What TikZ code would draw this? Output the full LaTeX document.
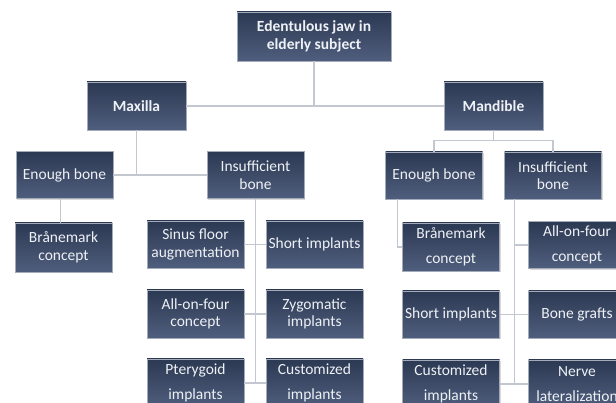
\documentclass[tikz,border=0pt]{standalone}
\usepackage{fontspec}
\setmainfont{Carlito}
\usetikzlibrary{shadows,calc}

\definecolor{boxtop}{HTML}{2C3953}
\definecolor{boxbot}{HTML}{4F5E7D}
\definecolor{boxline}{HTML}{A3ABBB}
\definecolor{linkgray}{HTML}{C3C7CF}
\definecolor{boxtext}{HTML}{EEF1F5}

\begin{document}
\begin{tikzpicture}[x=1pt,y=-1pt,font=\fontsize{15.5}{17.5}\selectfont]

    \tikzstyle{box}=[rectangle,draw=boxline,line width=0.6pt,top color=boxtop,bottom color=boxbot,text=boxtext,align=center,
                     minimum width=97pt,minimum height=47pt,inner sep=1pt,
                     drop shadow={shadow xshift=1pt,shadow yshift=-1.5pt,opacity=0.3}]
    \tikzstyle{loose}=[box,font=\fontsize{15.5}{24.5}\selectfont]
    \tikzstyle{head}=[box,font=\fontsize{15.5}{17.5}\selectfont\bfseries]
    \tikzstyle{link}=[draw=linkgray,line width=1.2pt]

    \useasboundingbox (0,0) rectangle (616,403);

    % top levels
    \node [head,minimum width=154pt,minimum height=49pt] (root) at (314,36.5) {Edentulous jaw in\\elderly subject};
    \node [head,minimum width=99pt,minimum height=48pt] (maxilla) at (136.5,106) {Maxilla};
    \node [head,minimum width=99pt,minimum height=48pt] (mandible) at (493.5,106) {Mandible};

    % maxilla branch
    \node [box] (menough) at (64.5,175) {Enough bone};
    \node [box] (minsuff) at (255.5,175) {Insufficient\\bone};
    \node [box,minimum height=49pt] (mbrane) at (63.5,247.5) {Brånemark\\concept};
    \node [box] (msinus) at (195.5,244.5) {Sinus floor\\augmentation};
    \node [box] (mshort) at (314.5,244.5) {Short implants};
    \node [box,minimum height=48pt] (mallfour) at (195.5,314) {All-on-four\\concept};
    \node [box,minimum height=48pt] (mzygo) at (314.5,314) {Zygomatic\\implants};
    \node [loose,minimum height=48pt] (mptery) at (195.5,383) {Pterygoid\\implants};
    \node [loose,minimum height=48pt] (mcustom) at (314.5,383) {Customized\\implants};

    % mandible branch
    \node [box] (denough) at (434,175.5) {Enough bone};
    \node [box] (dinsuff) at (553,175.5) {Insufficient\\bone};
    \node [loose,minimum height=48pt] (dbrane) at (451,247) {Brånemark\\concept};
    \node [loose] (dallfour) at (577,245) {All-on-four\\concept};
    \node [box] (dshort) at (451,314.5) {Short implants};
    \node [box] (dgrafts) at (577,314.5) {Bone grafts};
    \node [loose,minimum height=48pt] (dcustom) at (451,384) {Customized\\implants};
    \node [loose,minimum height=48pt] (dnerve) at (577,384) {Nerve\\lateralization};

    % connectors
    \draw [link] (maxilla.east) -- (mandible.west);
    \draw [link] (root.south) -- (root.south |- maxilla.east);

    \draw [link] (maxilla.south) -- (maxilla.south |- menough.east);
    \draw [link] (menough.east) -- (minsuff.west);
    \draw [link] ([xshift=-4pt]menough.south) -- ([xshift=-4pt]menough.south |- mbrane.north);
    \draw [link] (minsuff.south) -- (minsuff.south |- mptery.east);
    \draw [link] (msinus.east) -- (mshort.west);
    \draw [link] (mallfour.east) -- (mzygo.west);
    \draw [link] (mptery.east) -- (mcustom.west);

    \coordinate (dfork) at ($(mandible.south)+(0,10)$);
    \draw [link] (mandible.south) -- (dfork);
    \draw [link] (denough.north) |- (dfork) -| (dinsuff.north);
    \draw [link] ([xshift=12pt]denough.south west) |- (dbrane.west);
    \coordinate (dtrunk) at ([xshift=10pt]dinsuff.south west);
    \draw [link] (dtrunk) -- (dtrunk |- dnerve.west);
    \draw [link] (dtrunk |- dallfour.west) -- (dallfour.west);
    \draw [link] (dshort.east) -- (dgrafts.west);
    \draw [link] (dcustom.east) -- (dnerve.west);

\end{tikzpicture}
\end{document}
